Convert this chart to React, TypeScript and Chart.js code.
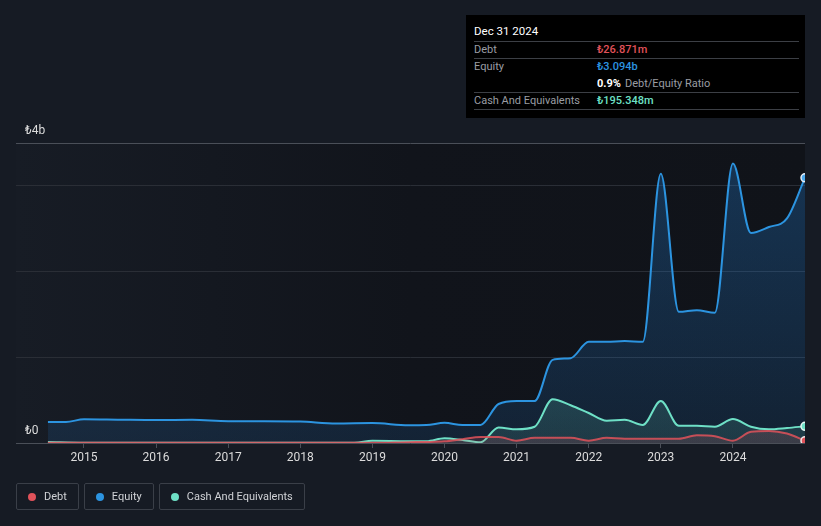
import React, { useEffect, useRef } from "react";
import { Chart, registerables } from "chart.js";

Chart.register(...registerables);

// ---- data (values in billions of ₺, dates as decimal years) ----
const equityDates = [2014.5, 2014.75, 2015.0, 2015.5, 2016.0, 2016.5, 2017.0, 2017.5, 2018.0, 2018.5, 2019.0, 2019.5, 2019.75, 2020.0, 2020.25, 2020.5, 2020.75, 2021.0, 2021.25, 2021.5, 2021.75, 2022.0, 2022.25, 2022.5, 2022.75, 2023.0, 2023.25, 2023.5, 2023.75, 2024.0, 2024.25, 2024.5, 2024.75, 2025.0];
const equityValues = [0.245, 0.245, 0.277, 0.272, 0.268, 0.27, 0.255, 0.255, 0.25, 0.228, 0.232, 0.208, 0.21, 0.235, 0.21, 0.21, 0.455, 0.49, 0.49, 0.97, 0.99, 1.18, 1.18, 1.19, 1.18, 3.14, 1.53, 1.55, 1.52, 3.26, 2.45, 2.52, 2.62, 3.094];

const cashDates = [2014.5, 2015.0, 2016.0, 2017.0, 2018.0, 2018.75, 2019.0, 2019.5, 2019.75, 2020.0, 2020.25, 2020.5, 2020.75, 2021.0, 2021.25, 2021.5, 2021.75, 2022.0, 2022.25, 2022.5, 2022.75, 2023.0, 2023.25, 2023.5, 2023.75, 2024.0, 2024.25, 2024.5, 2024.75, 2025.0];
const cashValues = [0.012, 0.004, 0.003, 0.003, 0.003, 0.004, 0.025, 0.02, 0.02, 0.055, 0.035, 0.008, 0.18, 0.16, 0.19, 0.51, 0.44, 0.35, 0.26, 0.27, 0.21, 0.49, 0.2, 0.2, 0.19, 0.28, 0.19, 0.16, 0.175, 0.195];

const debtDates = [2014.5, 2016.0, 2018.0, 2019.0, 2019.5, 2019.75, 2020.0, 2020.25, 2020.5, 2020.75, 2021.0, 2021.25, 2021.5, 2021.75, 2022.0, 2022.25, 2022.5, 2022.75, 2023.0, 2023.25, 2023.5, 2023.75, 2024.0, 2024.25, 2024.5, 2024.75, 2025.0];
const debtValues = [0.002, 0.002, 0.002, 0.002, 0.01, 0.012, 0.02, 0.045, 0.07, 0.07, 0.027, 0.06, 0.06, 0.06, 0.027, 0.06, 0.05, 0.05, 0.05, 0.05, 0.09, 0.08, 0.027, 0.13, 0.14, 0.11, 0.027];

const xTickYears = [2015, 2016, 2017, 2018, 2019, 2020, 2021, 2022, 2023, 2024];
const yTickValues = [0, 1, 2, 3, 3.5];
const yTickLabels = ["₺0", "", "", "", "₺4b"];

const seriesNames = ["Debt", "Equity", "Cash And Equivalents"];
const seriesColors = ["#e0525a", "#2c94e0", "#6ee0c6"];

const FONT = "Roboto, 'Noto Sans', sans-serif";

function toPoints(xs: number[], ys: number[]) {
  return xs.map((x, i) => ({ x, y: ys[i] }));
}

const bgPlugin = {
  id: "bgPlugin",
  beforeDraw(chart: any) {
    const { ctx, chartArea } = chart;
    if (!chartArea) return;
    const g = ctx.createLinearGradient(chartArea.left, 0, chartArea.right, 0);
    g.addColorStop(0, "rgb(23,28,37)");
    g.addColorStop(0.5, "rgb(17,20,27)");
    g.addColorStop(1, "rgb(16,19,25)");
    ctx.save();
    ctx.fillStyle = g;
    ctx.fillRect(chartArea.left, chartArea.top, chartArea.right - chartArea.left, chartArea.bottom - chartArea.top);
    ctx.restore();
  },
};

function vGrad(chart: any, top: string, bottom: string) {
  const { ctx, chartArea } = chart;
  if (!chartArea) return top;
  const g = ctx.createLinearGradient(0, chartArea.top, 0, chartArea.bottom);
  g.addColorStop(0, top);
  g.addColorStop(1, bottom);
  return g;
}

export default function App() {
  const ref = useRef<HTMLCanvasElement>(null);

  useEffect(() => {
    if (!ref.current) return;
    const lastRadius = (n: number) => (c: any) => (c.dataIndex === n - 1 ? 4 : 0);
    const chart = new Chart(ref.current, {
      type: "line",
      data: {
        datasets: [
          {
            label: "Debt",
            data: toPoints(debtDates, debtValues),
            borderColor: "rgba(224,82,90,0.85)",
            backgroundColor: (c: any) => vGrad(c.chart, "rgba(224,82,90,0.35)", "rgba(224,82,90,0.15)"),
            fill: "origin",
            borderWidth: 2,
            pointRadius: lastRadius(debtDates.length),
            pointBackgroundColor: "#e0525a",
            pointBorderColor: "#f0e8e8",
            pointBorderWidth: 1.5,
            cubicInterpolationMode: "monotone",
            order: 1,
          },
          {
            label: "Equity",
            data: toPoints(equityDates, equityValues),
            borderColor: "#2c94e0",
            backgroundColor: (c: any) => vGrad(c.chart, "rgba(35,125,210,0.32)", "rgba(35,125,210,0.14)"),
            fill: "origin",
            borderWidth: 2,
            pointRadius: lastRadius(equityDates.length),
            pointBackgroundColor: "#4aa8ec",
            pointBorderColor: "#e8f0f8",
            pointBorderWidth: 1.5,
            cubicInterpolationMode: "monotone",
            order: 3,
          },
          {
            label: "Cash And Equivalents",
            data: toPoints(cashDates, cashValues),
            borderColor: "#6ee0c6",
            backgroundColor: (c: any) => vGrad(c.chart, "rgba(110,224,198,0.35)", "rgba(110,224,198,0.12)"),
            fill: "origin",
            borderWidth: 2,
            pointRadius: lastRadius(cashDates.length),
            pointBackgroundColor: "#6ee0c6",
            pointBorderColor: "#e8f8f4",
            pointBorderWidth: 1.5,
            cubicInterpolationMode: "monotone",
            order: 2,
          },
        ],
      },
      options: {
        animation: false,
        responsive: false,
        maintainAspectRatio: false,
        layout: { padding: { left: 16, right: 16, top: 143, bottom: 53 } },
        plugins: { legend: { display: false }, tooltip: { enabled: false } },
        scales: {
          x: {
            type: "linear",
            min: 2014.057,
            max: 2025.0,
            afterBuildTicks: (s: any) => {
              s.ticks = xTickYears.map((v) => ({ value: v }));
            },
            afterFit: (s: any) => {
              s.height = 30;
            },
            border: { display: false },
            grid: { drawOnChartArea: false, drawTicks: true, tickLength: 5, color: "#4a4f58" },
            ticks: {
              color: "#dcdcdc",
              font: { family: FONT, size: 12 },
              padding: 3,
              maxRotation: 0,
              callback: (v: any) => String(v),
            },
          },
          y: {
            type: "linear",
            min: 0,
            max: 3.5,
            afterBuildTicks: (s: any) => {
              s.ticks = yTickValues.map((v) => ({ value: v }));
            },
            afterFit: (s: any) => {
              s.width = 0;
            },
            border: { display: false },
            grid: {
              drawTicks: false,
              color: (c: any) => (c.tick && (c.tick.value === 3.5 || c.tick.value === 0) ? "#4a4f58" : "#2a2e36"),
              lineWidth: 1,
            },
            ticks: {
              mirror: true,
              padding: 9,
              labelOffset: -12,
              color: "#dcdcdc",
              font: { family: FONT, size: 12 },
              callback: (v: any) => {
                const i = yTickValues.indexOf(Number(v));
                return i >= 0 ? yTickLabels[i] : "";
              },
            },
          },
        },
      },
      plugins: [bgPlugin],
    } as any);
    return () => chart.destroy();
  }, []);

  const rowStyle: React.CSSProperties = {
    position: "absolute",
    left: 8,
    right: 6,
    height: 17,
    display: "flex",
    alignItems: "center",
    borderBottom: "1px solid #3c3f45",
    fontSize: 11,
  };
  const lab: React.CSSProperties = { width: 123, color: "#9a9da3" };

  return (
    <div style={{ position: "fixed", inset: 0, background: "rgb(22,27,36)", fontFamily: FONT, overflow: "hidden" }}>
      <canvas ref={ref} width={821} height={526} style={{ position: "absolute", left: 0, top: 0, width: 821, height: 526 }} />
      <div style={{ position: "absolute", left: 466, top: 15, width: 339, height: 103, background: "#000" }}>
        <div style={{ position: "absolute", left: 8, top: 9, fontSize: 11.5, color: "#fff", fontWeight: 400 }}>Dec 31 2024</div>
        <div style={{ position: "absolute", left: 8, right: 6, top: 26, borderTop: "1px solid #3c3f45" }} />
        <div style={{ ...rowStyle, top: 26 }}>
          <span style={lab}>Debt</span>
          <span style={{ color: seriesColors[0], fontWeight: 500 }}>₺26.871m</span>
        </div>
        <div style={{ ...rowStyle, top: 43, height: 34 }}>
          <div style={{ display: "flex", flexDirection: "column", width: "100%" }}>
            <div style={{ display: "flex", height: 17, alignItems: "center" }}>
              <span style={lab}>Equity</span>
              <span style={{ color: seriesColors[1], fontWeight: 500 }}>₺3.094b</span>
            </div>
            <div style={{ display: "flex", height: 17, alignItems: "center" }}>
              <span style={lab}></span>
              <span style={{ color: "#fff", fontWeight: 700 }}>0.9%</span>
              <span style={{ color: "#9a9da3", marginLeft: 4 }}>Debt/Equity Ratio</span>
            </div>
          </div>
        </div>
        <div style={{ ...rowStyle, top: 77 }}>
          <span style={lab}>Cash And Equivalents</span>
          <span style={{ color: seriesColors[2], fontWeight: 500 }}>₺195.348m</span>
        </div>
      </div>
      <div style={{ position: "absolute", left: 16, top: 483, display: "flex", gap: 5 }}>
        {seriesNames.map((n, i) => (
          <div
            key={n}
            style={{
              height: 27,
              boxSizing: "border-box",
              border: "1px solid #3a3f48",
              borderRadius: 2,
              display: "flex",
              alignItems: "center",
              paddingLeft: 11,
              paddingRight: 11,
              fontSize: 11,
              color: "#d0d2d6",
            }}
          >
            <span style={{ width: 8, height: 8, borderRadius: "50%", background: seriesColors[i], marginRight: 8, flexShrink: 0 }} />
            {n}
          </div>
        ))}
      </div>
    </div>
  );
}
